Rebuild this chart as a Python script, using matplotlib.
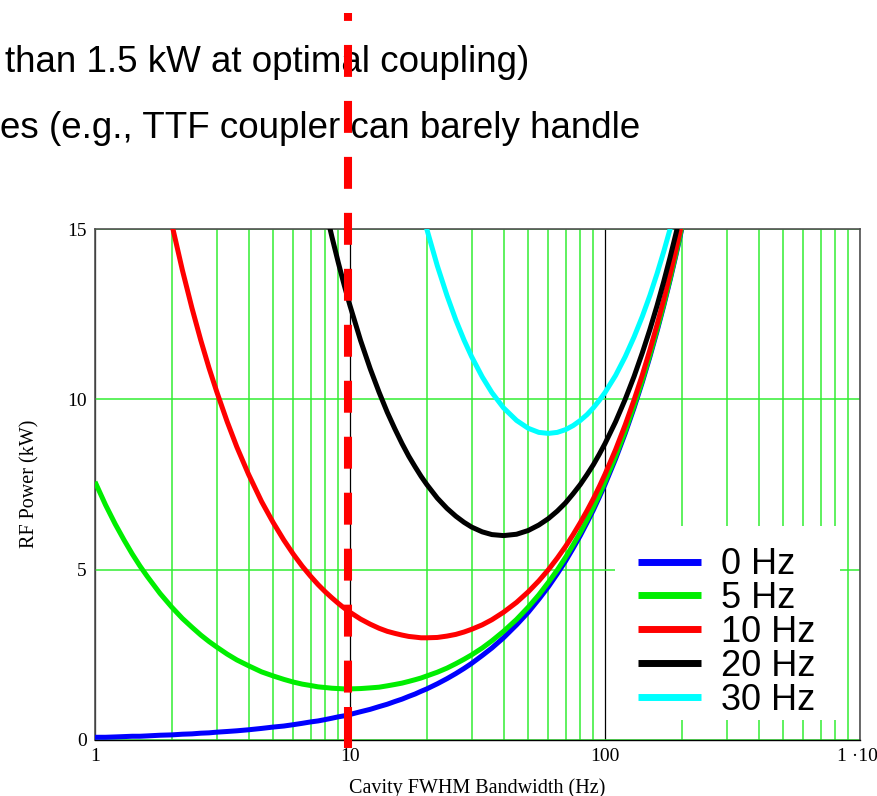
import matplotlib
matplotlib.use("Agg")
import matplotlib.pyplot as plt
import matplotlib.transforms as mtransforms
from matplotlib.patches import Rectangle
from matplotlib.ticker import FixedLocator, LogLocator, NullFormatter
import numpy as np

plt.rcParams["lines.scale_dashes"] = False

nan = np.nan

# cavity FWHM bandwidth (Hz)
bandwidth = [1, 1.1, 1.2, 1.3, 1.4, 1.5, 1.6, 1.8, 2, 2.2,
             2.4, 2.6, 2.8, 3, 3.3, 3.6, 4, 4.5, 5, 5.5,
             6, 6.5, 7, 7.5, 8, 8.5, 9, 9.5, 10, 11,
             12, 13, 14, 15, 16, 17, 18, 19, 20, 22,
             24, 26, 28, 30, 33, 36, 40, 45, 50, 55,
             60, 65, 70, 75, 80, 85, 90, 95, 100, 110,
             120, 130, 140, 150, 160, 170, 180, 190, 200]

# RF power (kW) for each detuning
power_0hz = [0.08, 0.08, 0.09, 0.10, 0.11, 0.11, 0.12, 0.14, 0.15, 0.17,
             0.18, 0.20, 0.21, 0.23, 0.25, 0.27, 0.30, 0.34, 0.38, 0.41,
             0.45, 0.49, 0.53, 0.56, 0.60, 0.64, 0.68, 0.71, 0.75, 0.83,
             0.90, 0.98, 1.05, 1.13, 1.20, 1.28, 1.35, 1.43, 1.50, 1.65,
             1.80, 1.95, 2.10, 2.25, 2.48, 2.70, 3.00, 3.38, 3.75, 4.13,
             4.50, 4.88, 5.25, 5.63, 6.00, 6.38, 6.75, 7.13, 7.50, 8.25,
             9.00, 9.75, 10.50, 11.25, 12.00, 12.75, 13.50, 14.25, 15.00]
power_5hz = [7.58, 6.90, 6.34, 5.87, 5.46, 5.11, 4.81, 4.30, 3.90, 3.57,
             3.31, 3.08, 2.89, 2.73, 2.52, 2.35, 2.18, 2.00, 1.88, 1.78,
             1.70, 1.64, 1.60, 1.56, 1.54, 1.52, 1.51, 1.50, 1.50, 1.51,
             1.53, 1.55, 1.59, 1.63, 1.67, 1.72, 1.77, 1.82, 1.88, 1.99,
             2.11, 2.24, 2.37, 2.50, 2.70, 2.91, 3.19, 3.54, 3.90, 4.26,
             4.63, 4.99, 5.36, 5.73, 6.09, 6.46, 6.83, 7.20, 7.58, 8.32,
             9.06, 9.81, 10.55, 11.30, 12.05, 12.79, 13.54, 14.29, 15.04]
power_10hz = [nan] * 7 + [16.80, 15.15, 13.80,
              12.68, 11.73, 10.92, 10.23, 9.34, 8.60, 7.80, 7.00, 6.38, 5.87,
              5.45, 5.10, 4.81, 4.56, 4.35, 4.17, 4.01, 3.87, 3.75, 3.55,
              3.40, 3.28, 3.19, 3.13, 3.08, 3.04, 3.02, 3.00, 3.00, 3.01,
              3.05, 3.10, 3.17, 3.25, 3.38, 3.53, 3.75, 4.04, 4.35, 4.67,
              5.00, 5.34, 5.68, 6.03, 6.38, 6.73, 7.08, 7.44, 7.80, 8.52,
              9.25, 9.98, 10.71, 11.45, 12.19, 12.93, 13.67, 14.41, 15.15]
power_20hz = [nan] * 23 + [16.56, 15.60, 14.76, 14.01, 13.34, 12.75, 11.73,
              10.90, 10.21, 9.62, 9.13, 8.70, 8.33, 8.02, 7.74, 7.50, 7.10,
              6.80, 6.57, 6.39, 6.25, 6.11, 6.03, 6.00, 6.04, 6.15, 6.31,
              6.50, 6.72, 6.96, 7.23, 7.50, 7.79, 8.08, 8.39, 8.70, 9.34,
              10.00, 10.67, 11.36, 12.05, 12.75, 13.46, 14.17, 14.88, 15.60]
power_30hz = [nan] * 36 + [16.35, 15.64, 15.00, 13.92,
              13.05, 12.33, 11.74, 11.25, 10.66, 10.20, 9.75, 9.38, 9.15, 9.03,
              9.00, 9.03, 9.11, 9.23, 9.38, 9.55, 9.75, 9.97, 10.20, 10.70,
              11.25, 11.83, 12.43, 13.05, 13.69, 14.34, 15.00, 15.67, 16.35]

labels = ["0 Hz", "5 Hz", "10 Hz", "20 Hz", "30 Hz"]
colors = ["#0000ff", "#00ee00", "#ff0000", "#000000", "#00ffff"]
series = [power_0hz, power_5hz, power_10hz, power_20hz, power_30hz]

x_ticks = [1, 10, 100, 1000]
x_ticklabels = ["1", "10", "100", "1 \u00b710\u00b3"]
y_ticks = [0, 5, 10, 15]
bandwidth_limit = 9.85

serif = "Liberation Serif"
sans = "Liberation Sans"
grid_green = "#33ee33"

fig = plt.figure(figsize=(8.78, 7.96), dpi=100)
ax = fig.add_axes([95 / 878, 56 / 796, 765 / 878, 511 / 796])
ax.set_xscale("log")
ax.set_xlim(1, 1000)
ax.set_ylim(0, 15)

ax.xaxis.set_major_locator(FixedLocator(x_ticks))
ax.xaxis.set_minor_locator(LogLocator(base=10, subs=np.arange(2, 10)))
ax.xaxis.set_minor_formatter(NullFormatter())
ax.set_xticklabels(x_ticklabels)
ax.set_yticks(y_ticks)

ax.grid(which="minor", axis="x", color=grid_green, lw=1.1, zorder=0)
ax.grid(which="major", axis="x", color="black", lw=0.9, zorder=0)
ax.grid(which="major", axis="y", color=grid_green, lw=1.1, zorder=0)
ax.set_axisbelow(True)

ax.tick_params(which="both", length=0)
ax.tick_params(axis="y", pad=6)
ax.tick_params(axis="x", pad=6)
for lab in ax.get_xticklabels() + ax.get_yticklabels():
    lab.set_fontfamily(serif)
    lab.set_fontsize(14)

for side in ["left", "top", "right"]:
    ax.spines[side].set_color("#505050")
    ax.spines[side].set_linewidth(1.2)
ax.spines["bottom"].set_color("black")
ax.spines["bottom"].set_linewidth(1.0)

for vals, col, lab in zip(series, colors, labels):
    ax.plot(bandwidth, vals, color=col, lw=3.6, label=lab, zorder=3,
            solid_capstyle="butt")

ax.set_xlabel("Cavity FWHM Bandwidth (Hz)", fontfamily=serif, fontsize=14.5)
ax.set_ylabel("RF Power (kW)", fontfamily=serif, fontsize=14.5)
ax.xaxis.set_label_coords(0.4994, -0.074)
ax.yaxis.set_label_coords(-0.073, 0.501)

# white box behind the legend hides the grid there
ax.add_patch(Rectangle((520 / 765, 20 / 511), 225 / 765, 194 / 511,
                       transform=ax.transAxes, facecolor="white",
                       edgecolor="none", zorder=2))
leg = ax.legend(loc="upper left", bbox_to_anchor=(543 / 765, 0.3773),
                frameon=False, borderpad=0, borderaxespad=0,
                handlelength=1.75, handletextpad=0.55, labelspacing=-0.03,
                prop={"family": sans, "size": 26})
leg.set_zorder(4)
for h in leg.get_lines():
    h.set_linewidth(5)

# coupler limit marker, runs past the axes frame
trans = mtransforms.blended_transform_factory(ax.transData, ax.transAxes)
ax.plot([bandwidth_limit, bandwidth_limit], [1.4227, 0.092], transform=trans,
        color="#ff0000", lw=5.8, linestyle=(17.3, (23.0, 17.3)),
        solid_capstyle="butt", dash_capstyle="butt", clip_on=False, zorder=10)
ax.plot([bandwidth_limit, bandwidth_limit], [0.0646, -0.0157], transform=trans,
        color="#ff0000", lw=5.8, solid_capstyle="butt", clip_on=False, zorder=10)

# slide text above the chart
ax.text(5 / 878, 1 - 62 / 796, "than 1.5 kW at optimal coupling)",
        transform=fig.transFigure, fontfamily=sans, fontsize=26.5,
        va="center", ha="left", zorder=5, clip_on=False)
ax.text(0 / 878, 1 - 128 / 796, "es (e.g., TTF coupler can barely handle",
        transform=fig.transFigure, fontfamily=sans, fontsize=26.5,
        va="center", ha="left", zorder=5, clip_on=False)

fig.savefig("out.png", dpi=100)
